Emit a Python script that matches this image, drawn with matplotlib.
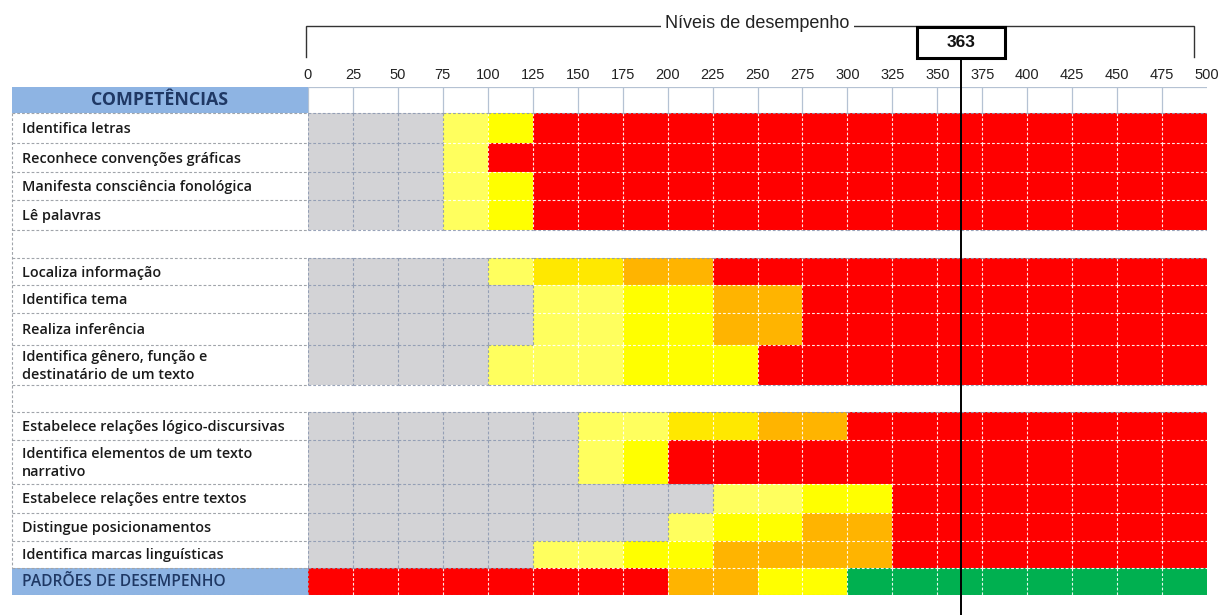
import matplotlib
matplotlib.use("Agg")
import matplotlib.pyplot as plt
from matplotlib.patches import Rectangle

# ---------------- data ----------------
score_ticks = list(range(0, 501, 25))
step = 25
proficiency = 363
title_text = "Níveis de desempenho"
header_label = "COMPETÊNCIAS"
footer_label = "PADRÕES DE DESEMPENHO"

group1_labels = ["Identifica letras",
                 "Reconhece convenções gráficas",
                 "Manifesta consciência fonológica",
                 "Lê palavras"]
group1_cells = ["GGGLY" + "R" * 15,
                "GGGL" + "R" * 16,
                "GGGLY" + "R" * 15,
                "GGGLY" + "R" * 15]

group2_labels = ["Localiza informação",
                 "Identifica tema",
                 "Realiza inferência",
                 "Identifica gênero, função e\ndestinatário de um texto"]
group2_cells = ["GGGGLDDOO" + "R" * 11,
                "GGGGGLLYYOO" + "R" * 9,
                "GGGGGLLYYOO" + "R" * 9,
                "GGGGLLLYYY" + "R" * 10]

group3_labels = ["Estabelece relações lógico-discursivas",
                 "Identifica elementos de um texto\nnarrativo",
                 "Estabelece relações entre textos",
                 "Distingue posicionamentos",
                 "Identifica marcas linguísticas"]
group3_cells = ["GGGGGGLLDDOO" + "R" * 8,
                "GGGGGGLY" + "R" * 12,
                "GGGGGGGGGLLYY" + "R" * 7,
                "GGGGGGGGLYYOO" + "R" * 7,
                "GGGGGLLYYOOOO" + "R" * 7]

footer_cells = "RRRRRRRROOYY" + "V" * 8

# ---------------- style ----------------
colors = {"G": "#D3D3D6", "L": "#FFFF5E", "Y": "#FFFF00", "D": "#FFE800",
          "O": "#FFB400", "R": "#FF0000", "V": "#00B050"}
blue = "#8EB4E3"
navy = "#1F3864"
grid_gray = "#8E9AB2"

rows = [("header", header_label, None)]
rows += [("row", l, c) for l, c in zip(group1_labels, group1_cells)]
rows += [("blank", "", None)]
rows += [("row", l, c) for l, c in zip(group2_labels, group2_cells)]
rows += [("blank", "", None)]
rows += [("row", l, c) for l, c in zip(group3_labels, group3_cells)]
rows += [("footer", footer_label, footer_cells)]
row_heights = [26, 30, 29, 28, 30, 28, 27, 28, 32, 40, 27, 28, 44, 29, 28, 27, 27]

W, H = 1224, 615
fig = plt.figure(figsize=(W / 100, H / 100), dpi=100)
fig.patch.set_facecolor("white")

def fx(px):
    return px / W

def fy(py):
    return 1 - py / H

top_px, bot_px = 87, 595
grid_l, grid_r = 308, 1207
lab_l = 12
total = sum(row_heights)

ax = fig.add_axes([fx(grid_l), fy(bot_px), fx(grid_r) - fx(grid_l), fy(top_px) - fy(bot_px)])
ax.set_xlim(0, 500)
ax.set_ylim(total, 0)
ax.axis("off")

axl = fig.add_axes([fx(lab_l), fy(bot_px), fx(grid_l) - fx(lab_l), fy(top_px) - fy(bot_px)])
axl.set_xlim(0, 1)
axl.set_ylim(total, 0)
axl.axis("off")

lab_family = ["Open Sans", "DejaVu Sans"]
label_font = dict(family=lab_family, fontweight="semibold", fontsize=10.4, color="#1a1a1a")
dash = (0, (2.5, 1.8))

y = 0
bounds = []
for (kind, label, cells), h in zip(rows, row_heights):
    bounds.append(y)
    if kind == "header":
        axl.add_patch(Rectangle((0, y), 1, h, fc=blue, ec="none"))
        axl.text(0.5, y + h / 2, label, ha="center", va="center",
                 family=lab_family, fontweight="bold", fontsize=12.8, color=navy)
        for v in score_ticks[:-1]:
            ax.plot([v, v], [y, y + h], color="#B5C2D3", lw=0.9, zorder=3)
        ax.plot([0, 500], [y, y], color="#B5C2D3", lw=0.9, zorder=3)
    elif kind in ("row", "footer"):
        if kind == "footer":
            axl.add_patch(Rectangle((0, y), 1, h, fc=blue, ec="none"))
            axl.text(0.034, y + h / 2, label, ha="left", va="center",
                     family=lab_family, fontweight="semibold", fontsize=11.2, color=navy)
        else:
            axl.text(0.034, y + h / 2 + 1, label, ha="left", va="center",
                     linespacing=1.3, **label_font)
        for j, c in enumerate(cells):
            ax.add_patch(Rectangle((score_ticks[j], y), step, h, fc=colors[c], ec="none", zorder=1))
        for j in range(len(cells)):
            left = cells[j - 1] if j > 0 else "G"
            right = cells[j]
            col = grid_gray if ("G" in (left, right)) else "white"
            ax.plot([score_ticks[j]] * 2, [y, y + h], color=col, lw=0.8,
                    ls=dash, zorder=3, alpha=0.9)
    y += h
bounds.append(y)

for i, b in enumerate(bounds):
    if i == 0:
        continue
    above = rows[i - 1] if i - 1 < len(rows) else None
    below = rows[i] if i < len(rows) else None
    axl.plot([0, 1], [b, b], color="#A0A4AA", lw=0.8, ls=dash, zorder=3)
    for j in range(len(score_ticks) - 1):
        ca = above[2][j] if (above and above[2]) else None
        cb = below[2][j] if (below and below[2]) else None
        if ca is None and cb is None:
            col = "#C8CCD2"
        elif (ca in (None, "G")) or (cb in (None, "G")):
            col = grid_gray
        else:
            col = "white"
        ax.plot([score_ticks[j], score_ticks[j + 1]], [b, b], color=col, lw=0.8,
                ls=dash, zorder=3, alpha=0.9)

axl.plot([0, 0], [bounds[1], bounds[-2]], color="#A0A4AA", lw=0.8, ls=dash, clip_on=False)

for v in score_ticks:
    ax.text(v, -12, str(v), ha="center", va="center", fontsize=10.5,
            family=["Liberation Sans", "DejaVu Sans"], color="#222222", clip_on=False)

ax.plot([-1, -1, 493, 493], [-30, -61, -61, -30], color="#333333", lw=1.0,
        clip_on=False, solid_joinstyle="miter")
ax.text(250, -63, title_text, ha="center", va="center", fontsize=13,
        family=["Liberation Sans", "DejaVu Sans"], color="#222222", clip_on=False,
        bbox=dict(fc="white", ec="none", pad=3))

ax.plot([proficiency, proficiency], [-29, total + 22], color="black", lw=1.4,
        clip_on=False, zorder=6)
ax.add_patch(Rectangle((proficiency - 24.5, -60), 49, 31, fc="white", ec="black",
                       lw=2.2, clip_on=False, zorder=7))
ax.text(proficiency, -44.5, str(proficiency), ha="center", va="center", fontsize=12.5,
        fontweight="bold", family=["Liberation Sans", "DejaVu Sans"], color="#111111",
        clip_on=False, zorder=8)

fig.savefig("out.png", dpi=100, facecolor="white")
